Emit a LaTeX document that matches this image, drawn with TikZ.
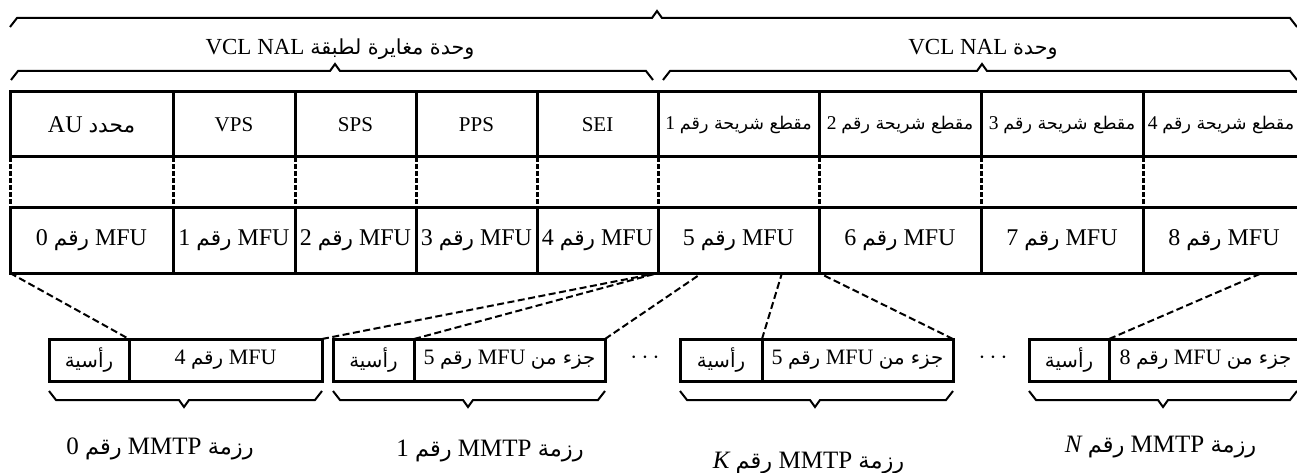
\documentclass[tikz,border=0pt]{standalone}
\usepackage{fontspec}
\setmainfont{Liberation Serif}
\newfontfamily\arabicfont[Script=Arabic,Scale=0.9]{DejaVu Sans}
\TeXXeTstate=1
\newcommand{\artext}[1]{{\arabicfont #1}}
\newcommand{\rtlline}[1]{\beginR #1\endR}
% flat brace: left x, right x, line y, tip x, +1 = tip up / -1 = tip down
\newcommand{\hbrace}[5]{%
  \pgfmathsetmacro{\bEnd}{#3+9*(#5)}%
  \pgfmathsetmacro{\bTip}{#3-7*(#5)}%
  \draw[brace] (#1,\bEnd) -- (#1+7,#3) -- (#4-5,#3) -- (#4,\bTip) -- (#4+5,#3) -- (#2-7,#3) -- (#2,\bEnd);}
\tikzset{
  cell/.style={draw, line width=3pt, inner sep=0pt, outer sep=0pt, minimum height=65pt, anchor=north west, font=\fontsize{21}{24}\selectfont},
  slice/.style={cell, font=\fontsize{19.5}{23}\selectfont},
  mfu/.style={cell, minimum height=66pt, font=\fontsize{24}{28}\selectfont},
  pkt/.style={draw, line width=3pt, inner sep=0pt, outer sep=0pt, minimum height=42pt, anchor=north west, font=\fontsize{22}{26}\selectfont},
  link/.style={line width=2pt, dash pattern=on 7pt off 3.5pt},
  gap/.style={line width=3pt, dash pattern=on 5pt off 2pt},
  brace/.style={line width=2pt, line join=miter},
  lbl/.style={inner sep=0pt, anchor=base, font=\fontsize{23}{27}\selectfont},
  pktlbl/.style={lbl, font=\fontsize{25}{29}\selectfont}
}
\begin{document}
\begin{tikzpicture}[x=1pt,y=-1pt]
  \useasboundingbox (0,0) rectangle (1297,473);
  % braces and group labels
  \hbrace{10}{1297}{18}{657}{1}
  \hbrace{11}{653}{71}{335}{1}
  \hbrace{663}{1297}{71}{982}{1}
  \node[lbl] (nonvcl) at (340,55) {\rtlline{\artext{وحدة مغايرة لطبقة} \beginL VCL NAL\endL}};
  \node[lbl] (vcl) at (983,55) {\rtlline{\artext{وحدة} \beginL VCL NAL\endL}};
  % NAL units
  \node[cell, minimum width=163pt, font=\fontsize{24}{28}\selectfont] (h0) at (10,92) {\rtlline{\artext{محدد} AU}};
  \node[cell, minimum width=122pt] (h1) at (173,92) {VPS};
  \node[cell, minimum width=121pt] (h2) at (295,92) {SPS};
  \node[cell, minimum width=121pt] (h3) at (416,92) {PPS};
  \node[cell, minimum width=121pt] (h4) at (537,92) {SEI};
  \node[slice, minimum width=161pt] (h5) at (658,92) {\rtlline{\artext{مقطع شريحة رقم} 1}};
  \node[slice, minimum width=162pt] (h6) at (819,92) {\rtlline{\artext{مقطع شريحة رقم} 2}};
  \node[slice, minimum width=162pt] (h7) at (981,92) {\rtlline{\artext{مقطع شريحة رقم} 3}};
  \node[slice, minimum width=162pt] (h8) at (1143,92) {\rtlline{\artext{مقطع شريحة رقم} 4}\hspace*{6pt}};
  % MFUs
  \node[mfu, minimum width=163pt] (m0) at (10,207) {\rtlline{MFU \artext{رقم} 0}};
  \node[mfu, minimum width=122pt] (m1) at (173,207) {\rtlline{MFU \artext{رقم} 1}};
  \node[mfu, minimum width=121pt] (m2) at (295,207) {\rtlline{MFU \artext{رقم} 2}};
  \node[mfu, minimum width=121pt] (m3) at (416,207) {\rtlline{MFU \artext{رقم} 3}};
  \node[mfu, minimum width=121pt] (m4) at (537,207) {\rtlline{MFU \artext{رقم} 4}};
  \node[mfu, minimum width=161pt] (m5) at (658,207) {\rtlline{MFU \artext{رقم} 5}};
  \node[mfu, minimum width=162pt] (m6) at (819,207) {\rtlline{MFU \artext{رقم} 6}};
  \node[mfu, minimum width=162pt] (m7) at (981,207) {\rtlline{MFU \artext{رقم} 7}};
  \node[mfu, minimum width=162pt] (m8) at (1143,207) {\rtlline{MFU \artext{رقم} 8}};
  \foreach \i in {0,...,8}
    \draw[gap] (h\i.south west) -- (m\i.north west);
  % MMTP packets
  \node[pkt, minimum width=80pt] (hd0) at (49,339) {\artext{رأسية}};
  \node[pkt, minimum width=193pt] (pl0) at (129,339) {\rtlline{MFU \artext{رقم} 4}};
  \node[pkt, minimum width=81pt] (hd1) at (333,339) {\artext{رأسية}};
  \node[pkt, minimum width=191pt] (pl1) at (414,339) {\rtlline{\artext{جزء من} MFU \artext{رقم} 5}};
  \node[pkt, minimum width=82pt] (hdK) at (680,339) {\artext{رأسية}};
  \node[pkt, minimum width=191pt] (plK) at (762,339) {\rtlline{\artext{جزء من} MFU \artext{رقم} 5}};
  \node[pkt, minimum width=80pt] (hdN) at (1029,339) {\artext{رأسية}};
  \node[pkt, minimum width=193pt] (plN) at (1109,339) {\rtlline{\artext{جزء من} MFU \artext{رقم} 8}};
  \node[font=\fontsize{24}{28}\selectfont] (dots1) at (645,358) {$\cdots$};
  \node[font=\fontsize{24}{28}\selectfont] (dots2) at (993,358) {$\cdots$};
  % where the packets come from
  \coordinate (cut1) at (702,273);
  \coordinate (cut2) at (782,273);
  \coordinate (cut3) at (1262,273);
  \draw[link] (m0.south west) -- (hd0.north east);
  \draw[link] (pl0.north east) -- (m5.south west);
  \draw[link] (hd1.north east) -- (m5.south west);
  \draw[link] (pl1.north east) -- (cut1);
  \draw[link] (hdK.north east) -- (cut2);
  \draw[link] (plK.north east) -- (m5.south east);
  \draw[link] (hdN.north east) -- (cut3);
  % packet braces
  \hbrace{49}{322}{400}{184}{-1}
  \hbrace{333}{605}{400}{468}{-1}
  \hbrace{680}{953}{400}{815}{-1}
  \hbrace{1029}{1297}{400}{1163}{-1}
  \node[pktlbl] (p0) at (160,454) {\rtlline{\artext{رزمة} MMTP \artext{رقم} 0}};
  \node[pktlbl] (p1) at (490,456) {\rtlline{\artext{رزمة} MMTP \artext{رقم} 1}};
  \node[pktlbl] (pK) at (808,468) {\rtlline{\artext{رزمة} MMTP \artext{رقم} \textit{K}}};
  \node[pktlbl] (pN) at (1160,452) {\rtlline{\artext{رزمة} MMTP \artext{رقم} \textit{N}}};
\end{tikzpicture}
\end{document}
